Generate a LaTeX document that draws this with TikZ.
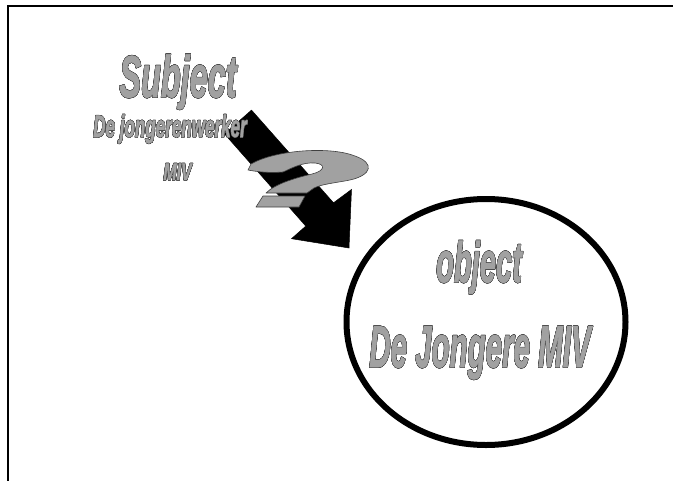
\documentclass[tikz,border=0pt]{standalone}
\usepackage{fontspec}
\setmainfont{Liberation Sans}
\newfontface\wafont{Liberation Sans Bold Italic}[FakeBold=1.6]
\usepackage[copies]{contour}
\usetikzlibrary{shapes.geometric}
\definecolor{wafill}{gray}{0.63}
\definecolor{waline}{gray}{0.25}
\contourlength{0.45pt}
\contournumber{16}
\newcommand{\wordart}[3]{\scalebox{#1}[1]{\fontsize{#2}{#2}\wafont\textcolor{wafill}{\contour{waline}{#3}}}}
\tikzset{
  watext/.style={anchor=base, inner sep=0pt},
  qmark/.style={fill=wafill, draw=waline, line width=0.6pt, line join=round},
  blockarrow/.style={fill=black, draw=black, line width=0.5pt, line join=miter},
  frameline/.style={line width=2pt, draw=black},
  objring/.style={ellipse, draw=black, line width=6pt, inner sep=0pt, minimum width=279pt, minimum height=246pt}
}
\begin{document}
\begin{tikzpicture}[x=1pt,y=-1pt]
\useasboundingbox (0,0) rectangle (673,480);
% frame (only top and left visible)
\coordinate (fbl) at (8,495);
\coordinate (ftl) at (8,6);
\coordinate (ftr) at (680,6);
\draw[frameline] (fbl) -- (ftl) -- (ftr);
% block arrow
\coordinate (a1) at (251.5,110.1);
\coordinate (a2) at (333.5,202.8);
\coordinate (a3) at (351.5,189.5);
\coordinate (tip) at (349,248);
\coordinate (a5) at (291.5,238.7);
\coordinate (a6) at (305.8,226.1);
\coordinate (a7) at (224.5,133.9);
\draw[blockarrow] (a1) -- (a2) -- (a3) -- (tip) -- (a5) -- (a6) -- (a7) -- cycle;
% subject texts
\node[watext] (subj) at (178,97) {\wordart{0.55}{59}{Subject}};
\node[watext] (jw) at (170,137) {\wordart{0.55}{31}{De jongerenwerker}};
\node[watext] (miv1) at (177.5,180) {\wordart{0.66}{24}{MIV}};
% question mark
\draw[qmark] (251,164) .. controls (275,150) and (330,146) .. (355,156)
  .. controls (375,163) and (372,175) .. (350,180)
  .. controls (335,183) and (322,184) .. (314,188)
  -- (307,193) -- (266,193)
  .. controls (275,184) and (295,178) .. (312,174)
  .. controls (325,171) and (326,164) .. (315,163)
  .. controls (303,162) and (292,168) .. (283,172)
  .. controls (270,173) and (258,172) .. (248,170) -- cycle;
\coordinate (d1) at (263,196);
\coordinate (d2) at (305,196);
\coordinate (d3) at (299,207);
\coordinate (d4) at (256,207);
\draw[qmark] (d1) -- (d2) -- (d3) -- (d4) -- cycle;
% object ellipse
\node[objring] (obj) at (486,322) {};
\node[watext] (objt) at (479,282) {\wordart{0.51}{57}{object}};
\node[watext] (jong) at (480,367) {\wordart{0.5}{59}{De Jongere MIV}};
\end{tikzpicture}
\end{document}
